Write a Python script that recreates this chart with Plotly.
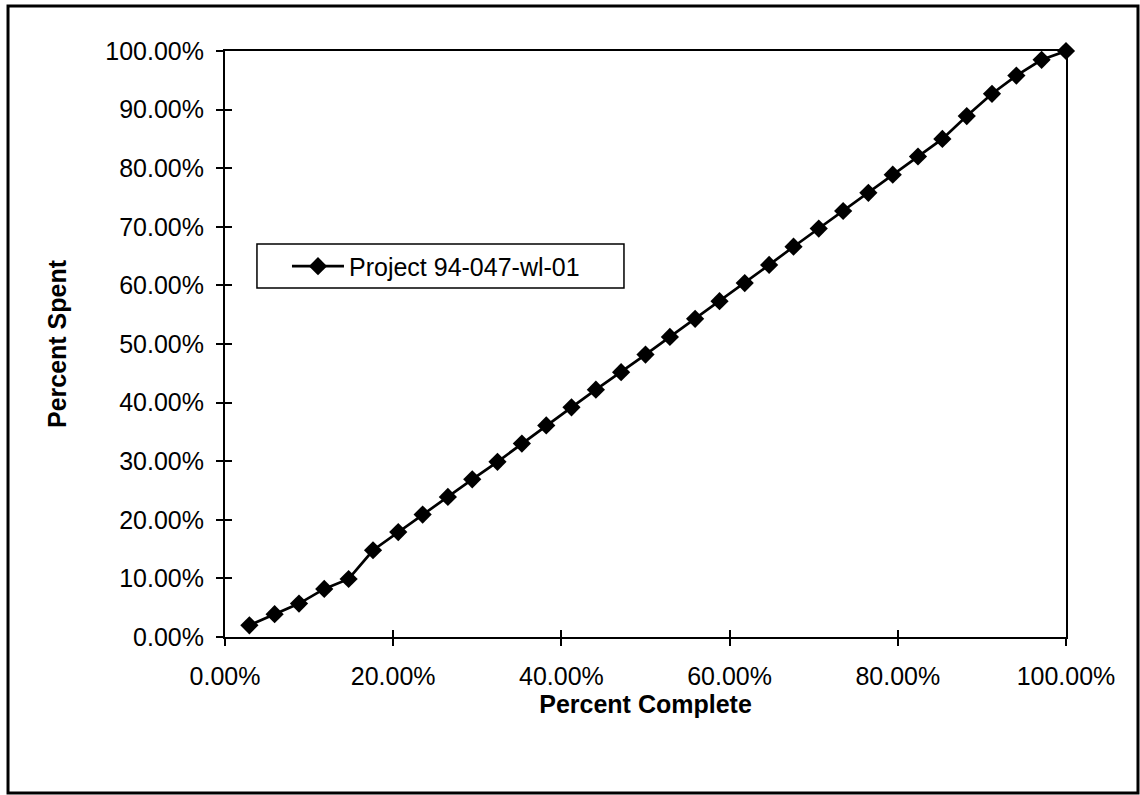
import plotly.graph_objects as go

# Percent complete (x) and percent spent (y) for each reporting period
pct_complete = [2.9, 5.9, 8.8, 11.8, 14.7, 17.6, 20.6, 23.5, 26.5, 29.4,
                32.4, 35.3, 38.2, 41.2, 44.1, 47.1, 50.0, 52.9, 55.9, 58.8,
                61.8, 64.7, 67.6, 70.6, 73.5, 76.5, 79.4, 82.4, 85.3, 88.2,
                91.2, 94.1, 97.1, 100.0]
pct_spent = [2.0, 3.9, 5.7, 8.2, 9.9, 14.8, 17.9, 20.9, 23.9, 26.9,
             29.9, 33.0, 36.1, 39.2, 42.2, 45.2, 48.2, 51.2, 54.3, 57.3,
             60.4, 63.5, 66.6, 69.7, 72.7, 75.8, 78.9, 82.0, 85.0, 88.9,
             92.7, 95.8, 98.5, 100.0]

series_name = "Project 94-047-wl-01"
x_ticks = [0, 20, 40, 60, 80, 100]
x_tick_labels = ["0.00%", "20.00%", "40.00%", "60.00%", "80.00%", "100.00%"]
y_ticks = [0, 10, 20, 30, 40, 50, 60, 70, 80, 90, 100]
y_tick_labels = ["0.00%", "10.00%", "20.00%", "30.00%", "40.00%", "50.00%",
                 "60.00%", "70.00%", "80.00%", "90.00%", "100.00%"]
x_title = "Percent Complete"
y_title = "Percent Spent"

FONT = "Arial, Liberation Sans, sans-serif"

fig = go.Figure()
fig.add_trace(go.Scatter(
    x=pct_complete, y=pct_spent, name=series_name,
    mode="lines+markers", cliponaxis=False,
    line=dict(color="black", width=2.7),
    marker=dict(symbol="diamond", size=14, color="black"),
))
# empty trace on overlay axes, used for the inner half of the cross ticks
fig.add_trace(go.Scatter(x=[None], y=[None], xaxis="x2", yaxis="y2",
                         showlegend=False, hoverinfo="skip"))

axis_common = dict(showgrid=False, zeroline=False, color="black",
                   tickfont=dict(family=FONT, size=25, color="black"))

fig.update_layout(
    width=1140, height=795,
    margin=dict(l=225, r=74, t=51, b=158),
    paper_bgcolor="white", plot_bgcolor="white",
    font=dict(family=FONT, color="black"),
    showlegend=True,
    legend=dict(
        x=0.0737, y=0.6323, xanchor="left", yanchor="middle",
        bgcolor="rgba(0,0,0,0)", borderwidth=0,
        font=dict(family=FONT, size=25, color="black"),
        itemwidth=52,
    ),
    xaxis=dict(
        range=[0, 100], tickvals=x_ticks, ticktext=x_tick_labels,
        ticks="outside", ticklen=7, tickwidth=1.5, tickcolor="black",
        showline=True, linewidth=2, linecolor="black", mirror=True,
        ticklabelstandoff=9,
        title=dict(text=f"<b>{x_title}</b>", standoff=0,
                   font=dict(family=FONT, size=25, color="black")),
        **axis_common,
    ),
    yaxis=dict(
        range=[0, 100], tickvals=y_ticks, ticktext=y_tick_labels,
        ticks="outside", ticklen=7, tickwidth=1.5, tickcolor="black",
        showline=True, linewidth=2, linecolor="black", mirror=True,
        ticklabelstandoff=7,
        title=dict(text=f"<b>{y_title}</b>", standoff=32,
                   font=dict(family=FONT, size=25, color="black")),
        **axis_common,
    ),
    xaxis2=dict(overlaying="x", range=[0, 100], tickvals=x_ticks[1:-1],
                ticks="inside", ticklen=7, tickwidth=1.5, tickcolor="black",
                showticklabels=False, showgrid=False, zeroline=False,
                showline=False, side="bottom"),
    yaxis2=dict(overlaying="y", range=[0, 100], tickvals=y_ticks[1:-1],
                ticks="inside", ticklen=7, tickwidth=1.5, tickcolor="black",
                showticklabels=False, showgrid=False, zeroline=False,
                showline=False, side="left"),
)

# legend frame
fig.add_shape(type="rect", xref="paper", yref="paper",
              x0=0.038, x1=0.4744, y0=0.5955, y1=0.6706,
              line=dict(color="black", width=1.5), fillcolor="white",
              layer="above")

# outer chart frame
fig.add_shape(type="rect", xref="paper", yref="paper",
              x0=-0.258, x1=1.0856, y0=-0.2662, y1=1.0768,
              line=dict(color="black", width=3), layer="below")

fig.write_html("out.html")
